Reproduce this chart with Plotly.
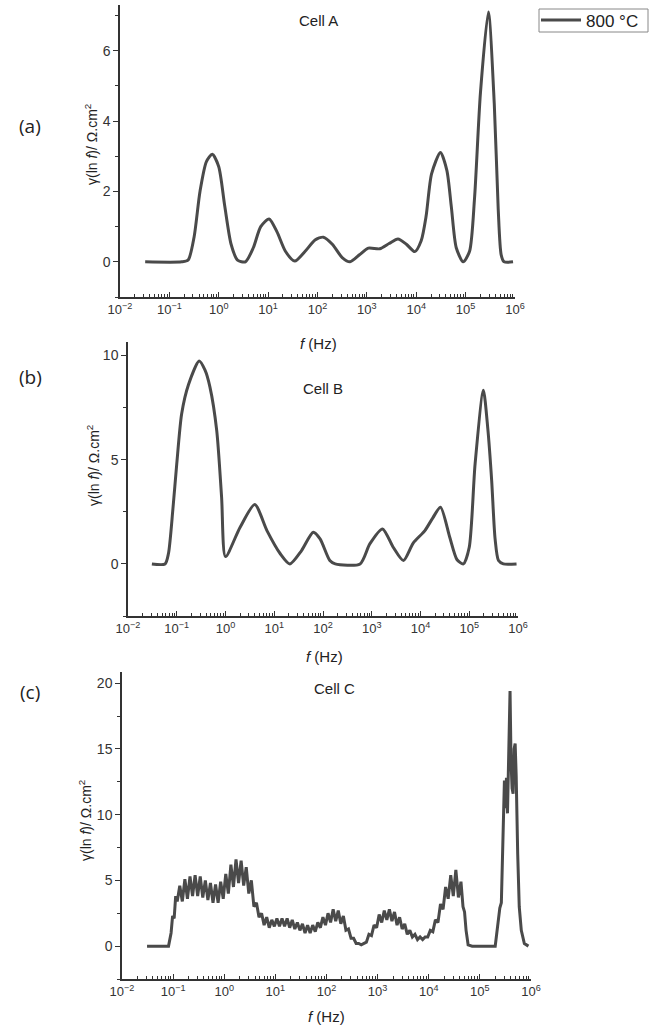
import plotly.graph_objects as go

# ---------------- data (log10 of frequency in Hz, gamma in ohm.cm2) ----------------
a_logf = [-1.49, -0.75, -0.62, -0.50, -0.38, -0.25, -0.13, 0.00, 0.12, 0.25, 0.38, 0.54,
          0.70, 0.85, 1.02, 1.18, 1.35, 1.54, 1.75, 1.95, 2.12, 2.30, 2.50, 2.66, 2.85,
          3.03, 3.26, 3.45, 3.63, 3.80, 3.97, 4.10, 4.20, 4.31, 4.49, 4.62, 4.71, 4.81,
          4.95, 5.08, 5.18, 5.30, 5.46, 5.58, 5.66, 5.72, 5.78, 5.96]
a_gamma = [0.0, 0.0, 0.05, 0.7, 2.0, 2.85, 3.06, 2.7, 1.6, 0.5, 0.05, 0.0,
           0.4, 1.0, 1.22, 0.85, 0.3, 0.02, 0.3, 0.62, 0.70, 0.5, 0.12, 0.0, 0.2,
           0.39, 0.37, 0.52, 0.65, 0.5, 0.29, 0.6, 1.3, 2.5, 3.11, 2.6, 1.57, 0.4,
           0.0, 0.3, 1.8, 4.8, 7.1, 4.5, 1.5, 0.2, 0.0, 0.0]

b_logf = [-1.51, -1.24, -1.17, -1.08, -1.00, -0.90, -0.76, -0.54, -0.42, -0.32, -0.18,
          -0.08, 0.00, 0.30, 0.60, 0.85, 1.12, 1.32, 1.56, 1.80, 1.94, 2.14, 2.25, 2.76,
          2.96, 3.22, 3.44, 3.65, 3.85, 4.09, 4.25, 4.41, 4.60, 4.75, 4.88, 5.00, 5.12,
          5.29, 5.38, 5.46, 5.53, 5.60, 5.70, 5.97]
b_gamma = [0.0, 0.0, 0.5, 2.6, 4.8, 7.2, 8.6, 9.74, 9.3, 8.5, 6.4,
           3.2, 0.35, 1.76, 2.85, 1.6, 0.5, 0.0, 0.64, 1.52, 1.2, 0.16, 0.0, 0.0,
           0.96, 1.68, 0.8, 0.16, 1.0, 1.6, 2.2, 2.72, 1.28, 0.2, 0.0, 0.8, 4.8,
           8.33, 6.5, 4.0, 1.2, 0.16, 0.0, 0.0]

c_logf = [-1.51, -1.09, -1.04, -1.01, -0.98, -0.95, -0.92, -0.89,
          -0.87, -0.82, -0.77, -0.72, -0.67, -0.62, -0.57, -0.52, -0.47, -0.42,
          -0.37, -0.32, -0.27, -0.22, -0.17, -0.12, -0.07, -0.02, 0.03, 0.08,
          0.13, 0.18, 0.23, 0.28, 0.33, 0.38, 0.43, 0.48, 0.53, 0.58,
          0.63, 0.68, 0.73, 0.78, 0.83, 0.88, 0.93, 0.98, 1.03, 1.08,
          1.13, 1.18, 1.23, 1.28, 1.33, 1.38, 1.43, 1.48, 1.53, 1.58,
          1.63, 1.68, 1.73, 1.78, 1.83, 1.88, 1.93, 1.98, 2.03, 2.08,
          2.13, 2.18, 2.23, 2.28, 2.33, 2.38, 2.43, 2.48, 2.53, 2.58,
          2.63, 2.68, 2.73, 2.78, 2.83, 2.88, 2.93, 2.98, 3.03, 3.08,
          3.13, 3.18, 3.23, 3.28, 3.33, 3.38, 3.43, 3.48, 3.53, 3.58,
          3.63, 3.68, 3.73, 3.78, 3.83, 3.88, 3.93, 3.98, 4.03, 4.08,
          4.13, 4.18, 4.23, 4.28, 4.33, 4.38, 4.43, 4.48, 4.53, 4.58,
          4.63, 4.67, 4.70, 4.73, 4.77, 4.85, 5.30, 5.34, 5.39, 5.42,
          5.45, 5.48, 5.50, 5.52, 5.54, 5.57, 5.59, 5.61, 5.63, 5.65,
          5.67, 5.69, 5.71, 5.74, 5.77, 5.81, 5.87, 5.95]
c_gamma = [0.0, 0.0, 1.0, 2.3, 2.1, 3.8, 3.4, 4.2,
           4.6, 3.4, 5.1, 3.6, 5.3, 3.8, 5.4, 3.8, 5.3, 3.7,
           5.0, 3.5, 4.8, 3.3, 4.7, 3.3, 4.9, 3.6, 5.5, 4.0,
           6.2, 4.5, 6.6, 4.8, 6.5, 4.6, 6.0, 4.0, 5.0, 3.0,
           3.3, 2.2, 2.5, 1.6, 2.2, 1.4, 2.0, 1.5, 2.1, 1.5,
           2.1, 1.5, 2.1, 1.4, 2.0, 1.3, 1.8, 1.2, 1.7, 1.0,
           1.6, 1.0, 1.6, 1.1, 1.8, 1.4, 2.2, 1.6, 2.5, 1.8,
           2.8, 1.9, 2.7, 1.7, 2.3, 1.2, 1.3, 0.6, 0.6, 0.2,
           0.2, 0.1, 0.2, 0.3, 0.9, 0.8, 1.6, 1.4, 2.4, 1.8,
           2.7, 2.0, 2.8, 1.9, 2.6, 1.6, 2.2, 1.3, 1.7, 0.9,
           1.2, 0.7, 0.9, 0.5, 0.7, 0.5, 0.7, 0.7, 1.2, 1.1,
           2.0, 1.8, 3.2, 2.8, 4.5, 3.6, 5.4, 3.8, 5.8, 3.7,
           4.9, 3.0, 2.6, 1.2, 0.1, 0.0, 0.0, 1.5, 2.9, 3.3,
           8.0, 12.6, 10.5, 12.8, 10.1, 16.0, 19.4, 14.0, 12.0, 11.6,
           15.0, 15.4, 13.0, 7.0, 3.0, 1.2, 0.2, 0.0]

decade_exps = [-2, -1, 0, 1, 2, 3, 4, 5, 6]
decade_labels = ["10<sup>−2</sup>", "10<sup>−1</sup>", "10<sup>0</sup>", "10<sup>1</sup>",
                 "10<sup>2</sup>", "10<sup>3</sup>", "10<sup>4</sup>", "10<sup>5</sup>",
                 "10<sup>6</sup>"]
cell_titles = ["Cell A", "Cell B", "Cell C"]
panel_labels = ["(a)", "(b)", "(c)"]
legend_name = "800 °C"

# ---------------- layout geometry ----------------
W, H = 656, 1033
LINE = "#4a4a4a"
AX = "#333333"
FONT = "Liberation Sans, Arial, sans-serif"

def fx(px):
    return px / W

def fy(py):
    return 1 - py / H

panels = [
    dict(logf=a_logf, g=a_gamma, x0=120, x1=515, y0=5, y1=297, yr=[-1, 7.3],
         yt=[0, 2, 4, 6], ym=1, shape="spline"),
    dict(logf=b_logf, g=b_gamma, x0=128, x1=518, y0=342, y1=616, yr=[-2.5, 10.65],
         yt=[0, 5, 10], ym=2.5, shape="spline"),
    dict(logf=c_logf, g=c_gamma, x0=122, x1=531, y0=672, y1=979, yr=[-2.5, 20.85],
         yt=[0, 5, 10, 15, 20], ym=2.5, shape="linear"),
]

minor_x = [k * 10.0 ** e for e in range(-2, 6) for k in range(2, 10)]

fig = go.Figure()
layout = dict(width=W, height=H, margin=dict(l=0, r=0, t=0, b=0, autoexpand=False),
              paper_bgcolor="white", plot_bgcolor="white",
              font=dict(family=FONT, color=AX, size=13), annotations=[])

for i, p in enumerate(panels):
    n = "" if i == 0 else str(i + 1)
    fig.add_trace(go.Scatter(
        x=[10 ** v for v in p["logf"]], y=p["g"], mode="lines",
        line=dict(color=LINE, width=3, shape=p["shape"], smoothing=0.7),
        name=legend_name, showlegend=(i == 0),
        xaxis="x" + n, yaxis="y" + n))
    layout["xaxis" + n] = dict(
        domain=[fx(p["x0"]), fx(p["x1"])], anchor="y" + n, type="log", automargin=False,
        range=[-2, 6], tickmode="array", tickvals=[10.0 ** e for e in decade_exps],
        ticktext=decade_labels, ticks="inside", ticklen=5, tickwidth=1.2, tickcolor=AX,
        minor=dict(tickmode="array", tickvals=minor_x, ticks="inside", ticklen=3,
                   tickwidth=1, tickcolor=AX, showgrid=False),
        showline=True, linecolor=AX, linewidth=1.5, showgrid=False, zeroline=False,
        tickfont=dict(size=13, color=AX, family=FONT))
    layout["yaxis" + n] = dict(
        domain=[fy(p["y1"]), fy(p["y0"])], anchor="x" + n, range=p["yr"], automargin=False,
        tickmode="array", tickvals=p["yt"], ticks="outside", ticklen=5, tickwidth=1.2,
        tickcolor=AX,
        minor=dict(dtick=p["ym"], tick0=0, ticks="outside", ticklen=3, tickwidth=1,
                   tickcolor=AX, showgrid=False),
        showline=True, linecolor=AX, linewidth=1.5, showgrid=False, zeroline=False,
        tickfont=dict(size=14, color=AX, family=FONT))

ann = layout["annotations"]
def add_text(t, cx, cy, size, family=FONT, angle=0):
    ann.append(dict(text=t, x=fx(cx), y=fy(cy), xref="paper", yref="paper",
                    xanchor="center", yanchor="middle", showarrow=False, textangle=angle,
                    font=dict(size=size, color="#222", family=family)))

for t, (cx, cy) in zip(cell_titles, [(318, 20), (323, 388), (334, 688)]):
    add_text(t, cx, cy, 15)
for t, cy in zip(panel_labels, [126, 377, 692]):
    add_text(t, 30, cy, 19, family="Open Sans")
for cx, cy in [(91, 145), (93, 465), (85, 821)]:
    add_text("γ(ln <i>f</i>)/ Ω.cm<sup>2</sup>", cx, cy, 14, angle=-90)
for cx, cy in [(318, 344), (324, 656), (326, 1016)]:
    add_text("<i>f</i> (Hz)", cx, cy, 15)

# legend (box border drawn as a decorative rectangle)
layout["legend"] = dict(x=fx(536), y=fy(20.5), xanchor="left", yanchor="middle",
                        borderwidth=0, bgcolor="rgba(0,0,0,0)",
                        font=dict(size=17, color="#222", family=FONT), itemwidth=40,
                        tracegroupgap=0)
layout["shapes"] = [dict(type="rect", xref="paper", yref="paper",
                         x0=fx(539), x1=fx(648), y0=fy(32), y1=fy(9),
                         line=dict(color="#888", width=1), fillcolor="rgba(0,0,0,0)",
                         layer="below")]
fig.update_layout(**layout)
fig.write_html("out.html", config={"displayModeBar": False},
               post_script="document.body.style.margin='0px';")
